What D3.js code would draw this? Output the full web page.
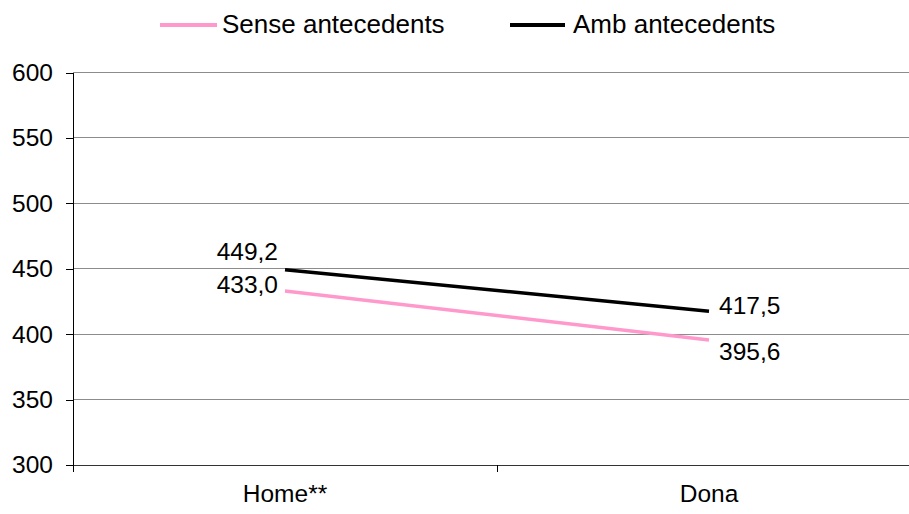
<!DOCTYPE html>
<html>
<head>
<meta charset="utf-8">
<script src="https://cdn.jsdelivr.net/npm/d3@7"></script>
<style>
  html, body { margin: 0; padding: 0; background: #fff; }
  svg text { font-family: Arial, "Liberation Sans", sans-serif; fill: #000; }
</style>
</head>
<body>
<svg id="chart" width="909" height="514"></svg>
<script>
const categories = ["Home**", "Dona"];
const senseValues = [433.0, 395.6];
const ambValues = [449.2, 417.5];
const seriesNames = ["Sense antecedents", "Amb antecedents"];
const yTicks = [300, 350, 400, 450, 500, 550, 600];

const series = [
  { name: seriesNames[0], values: senseValues, color: "#ff99cc", labelDy: [-7, 12] },
  { name: seriesNames[1], values: ambValues, color: "#000000", labelDy: [-18, -6] }
];

const svg = d3.select("#chart");
const fontSize = 24.5;
const legendFont = 26;
const plotLeft = 73, plotRight = 921, plotTop = 72.5, plotBottom = 465;

const x = d3.scaleBand().domain(categories).range([plotLeft, plotRight]);
const y = d3.scaleLinear().domain([300, 600]).range([plotBottom, plotTop]);
const fmt = v => d3.format(".1f")(v).replace(".", ",");

// gridlines
svg.append("g").selectAll("line").data(yTicks.filter(t => t !== 300)).join("line")
  .attr("x1", plotLeft).attr("x2", 909)
  .attr("y1", d => y(d)).attr("y2", d => y(d))
  .attr("stroke", "#8c8c8c").attr("stroke-width", 1).attr("shape-rendering", "crispEdges");

// y axis
const yAxis = svg.append("g").attr("transform", `translate(${plotLeft},0)`)
  .call(d3.axisLeft(y).tickValues(yTicks).tickSize(7).tickPadding(13).tickFormat(d3.format("d")));
yAxis.select(".domain").attr("stroke", "#000").attr("shape-rendering", "crispEdges");
yAxis.selectAll(".tick line").attr("stroke", "#000").attr("shape-rendering", "crispEdges");
yAxis.selectAll("text").attr("font-size", fontSize).attr("font-family", "Arial, 'Liberation Sans', sans-serif").attr("fill", "#000");

// x axis
const xg = svg.append("g");
xg.append("line").attr("x1", plotLeft).attr("x2", 909).attr("y1", plotBottom).attr("y2", plotBottom)
  .attr("stroke", "#333").attr("shape-rendering", "crispEdges");
const boundaries = categories.map(c => x(c)).concat([x(categories[categories.length - 1]) + x.bandwidth()]);
xg.selectAll("line.tk").data(boundaries).join("line").attr("class", "tk")
  .attr("x1", d => d).attr("x2", d => d).attr("y1", plotBottom).attr("y2", plotBottom + 7)
  .attr("stroke", "#000").attr("shape-rendering", "crispEdges");
xg.selectAll("text").data(categories).join("text")
  .attr("x", d => x(d) + x.bandwidth() / 2).attr("y", 502)
  .attr("text-anchor", "middle").attr("font-size", fontSize).text(d => d);

// lines
const line = d3.line().x((d, i) => x(categories[i]) + x.bandwidth() / 2).y(d => y(d));
series.forEach(s => {
  svg.append("path").datum(s.values).attr("d", line)
    .attr("fill", "none").attr("stroke", s.color).attr("stroke-width", 3.5);
  svg.append("g").selectAll("text").data(s.values).join("text")
    .attr("x", (d, i) => x(categories[i]) + x.bandwidth() / 2 + (i === 0 ? -7 : 10))
    .attr("y", (d, i) => y(d) + s.labelDy[i])
    .attr("dy", "0.35em")
    .attr("text-anchor", (d, i) => i === 0 ? "end" : "start")
    .attr("font-size", fontSize).text(d => fmt(d));
});

// legend
const legendPos = [{ x1: 160, x2: 217, tx: 222 }, { x1: 510, x2: 565, tx: 573 }];
const lg = svg.append("g");
series.forEach((s, i) => {
  const p = legendPos[i];
  lg.append("line").attr("x1", p.x1).attr("x2", p.x2).attr("y1", 25).attr("y2", 25)
    .attr("stroke", s.color).attr("stroke-width", 4);
  lg.append("text").attr("x", p.tx).attr("y", 24).attr("dy", "0.35em")
    .attr("font-size", legendFont).text(s.name);
});
</script>
</body>
</html>
